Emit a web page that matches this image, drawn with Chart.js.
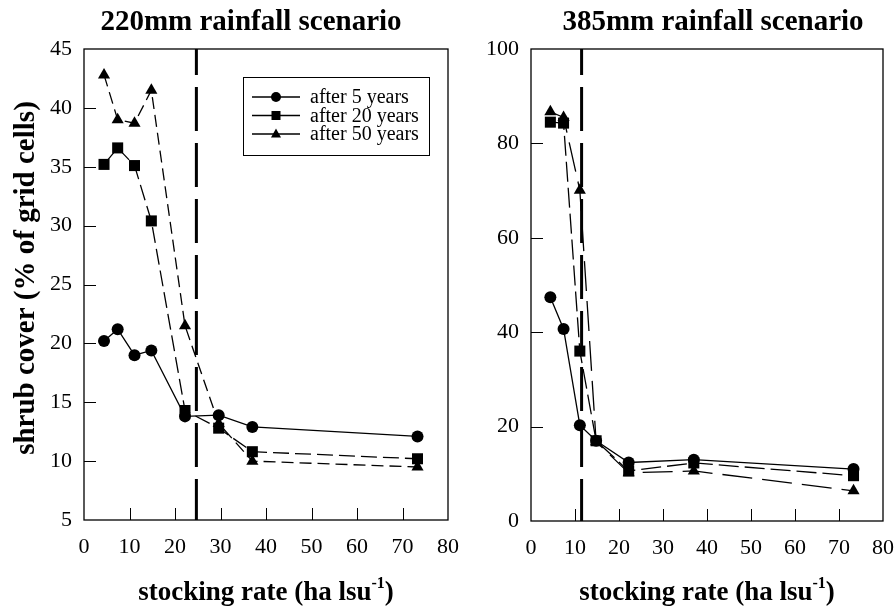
<!DOCTYPE html>
<html>
<head>
<meta charset="utf-8">
<script src="https://cdn.jsdelivr.net/npm/chart.js@4.4.0/dist/chart.umd.min.js"></script>
<style>
  html, body { margin: 0; padding: 0; background: #fff; overflow: hidden; }
  #wrap { position: relative; width: 896px; height: 610px; overflow: hidden; }
  #dry { position: absolute; left: 0; top: 0; width: 480px; height: 610px; }
  #wet { position: absolute; left: 470px; top: 0; width: 440px; height: 610px; }
</style>
</head>
<body>
<div id="wrap">
  <canvas id="dry" width="480" height="610"></canvas>
  <canvas id="wet" width="440" height="610"></canvas>
</div>
<script>
// stocking rates (ha per lsu)
const dryRates = [4.4, 7.4, 11.1, 14.8, 22.2, 29.6, 37, 73.3];
const wetRates = [4.4, 7.4, 11.1, 14.8, 22.2, 37, 73.3];

// 220mm scenario, shrub cover %
const dry5 = [20.2, 21.2, 19.0, 19.4, 13.8, 13.9, 12.9, 12.1];
const dry20 = [35.2, 36.6, 35.1, 30.4, 14.3, 12.8, 10.8, 10.2];
const dry50 = [42.8, 39.0, 38.7, 41.5, 21.5, 13.2, 10.0, 9.5];

// 385mm scenario, shrub cover %
const wet5 = [47.4, 40.7, 20.3, 17.0, 12.4, 13.0, 11.0];
const wet20 = [84.5, 84.3, 36.0, 17.0, 10.6, 12.3, 9.6];
const wet50 = [86.7, 85.5, 70.1, 16.8, 10.2, 10.6, 6.4];

const seriesLabels = ['after 5 years', 'after 20 years', 'after 50 years'];
const dryThreshold = 24.7;
const wetThreshold = 11.5;

const xTicks = [0, 10, 20, 30, 40, 50, 60, 70, 80];
const dryYTicks = [5, 10, 15, 20, 25, 30, 35, 40, 45];
const wetYTicks = [0, 20, 40, 60, 80, 100];

const SERIF = "'Liberation Serif', 'DejaVu Serif', serif";
Chart.defaults.font.family = SERIF;
Chart.defaults.color = '#000';

function points(xs, ys) {
    return xs.map((x, i) => ({ x: x, y: ys[i] }));
}

function series(label, xs, ys, style, radius, dash) {
    return {
        label: label,
        data: points(xs, ys),
        showLine: true,
        borderColor: '#000',
        backgroundColor: '#000',
        borderWidth: 1.3,
        borderDash: dash,
        pointStyle: style,
        pointRadius: radius,
        pointHoverRadius: radius,
        pointBorderWidth: 0,
        tension: 0
    };
}

function drawMarker(ctx, style, x, y, r) {
    ctx.beginPath();
    if (style === 'circle') {
        ctx.arc(x, y, r, 0, Math.PI * 2);
    } else if (style === 'rect') {
        ctx.rect(x - r, y - r, 2 * r, 2 * r);
    } else {
        ctx.moveTo(x, y - r * 1.1);
        ctx.lineTo(x + r, y + r * 0.7);
        ctx.lineTo(x - r, y + r * 0.7);
        ctx.closePath();
    }
    ctx.fill();
}

// frame, inward ticks, titles, threshold line and legend
const figurePlugin = {
    id: 'figure',
    beforeDatasetsDraw(chart, args, opts) {
        const ctx = chart.ctx;
        const a = chart.chartArea;
        const x = chart.scales.x.getPixelForValue(opts.threshold);
        ctx.save();
        ctx.strokeStyle = '#000';
        ctx.lineWidth = 3;
        ctx.setLineDash([44, 12]);
        ctx.lineDashOffset = 18;
        ctx.beginPath();
        ctx.moveTo(x, a.top);
        ctx.lineTo(x, a.bottom);
        ctx.stroke();
        ctx.restore();
    },
    afterDraw(chart, args, opts) {
        const ctx = chart.ctx;
        const a = chart.chartArea;
        const xs = chart.scales.x;
        const ys = chart.scales.y;
        ctx.save();
        ctx.strokeStyle = '#000';
        ctx.lineWidth = 1.3;
        ctx.strokeRect(a.left, a.top, a.right - a.left, a.bottom - a.top);

        ctx.beginPath();
        xs.ticks.forEach(t => {
            if (t.value <= xs.min || t.value >= xs.max) return;
            const px = Math.round(xs.getPixelForValue(t.value)) + 0.5;
            ctx.moveTo(px, a.bottom);
            ctx.lineTo(px, a.bottom - 12);
        });
        ys.ticks.forEach(t => {
            if (t.value <= ys.min || t.value >= ys.max) return;
            const py = Math.round(ys.getPixelForValue(t.value)) + 0.5;
            ctx.moveTo(a.left, py);
            ctx.lineTo(a.left + 12, py);
        });
        ctx.lineWidth = 1;
        ctx.stroke();

        ctx.fillStyle = '#000';
        ctx.textAlign = 'center';
        ctx.textBaseline = 'alphabetic';
        ctx.font = 'bold 29px ' + SERIF;
        ctx.fillText(opts.title, opts.titleX, 30);

        // x axis title with superscript
        const main = 'stocking rate (ha lsu';
        const sup = '-1';
        const tail = ')';
        ctx.font = 'bold 27px ' + SERIF;
        const w1 = ctx.measureText(main).width;
        const w3 = ctx.measureText(tail).width;
        ctx.font = 'bold 16px ' + SERIF;
        const w2 = ctx.measureText(sup).width;
        let sx = opts.xTitleX - (w1 + w2 + w3) / 2;
        const base = 600;
        ctx.textAlign = 'left';
        ctx.font = 'bold 27px ' + SERIF;
        ctx.fillText(main, sx, base);
        ctx.font = 'bold 16px ' + SERIF;
        ctx.fillText(sup, sx + w1, base - 12);
        ctx.font = 'bold 27px ' + SERIF;
        ctx.fillText(tail, sx + w1 + w2, base);

        if (opts.yTitle) {
            ctx.save();
            ctx.translate(34, 278);
            ctx.rotate(-Math.PI / 2);
            ctx.textAlign = 'center';
            ctx.font = 'bold 29px ' + SERIF;
            ctx.fillText(opts.yTitle, 0, 0);
            ctx.restore();
        }

        if (opts.legend) {
            const lg = opts.legend;
            ctx.lineWidth = 1;
            ctx.strokeRect(lg.x + 0.5, lg.y + 0.5, lg.w, lg.h);
            ctx.font = '20px ' + SERIF;
            chart.data.datasets.forEach((ds, i) => {
                const cy = lg.y + 20 + i * 18.5;
                ctx.beginPath();
                ctx.lineWidth = 1.5;
                ctx.moveTo(lg.x + 9, cy);
                ctx.lineTo(lg.x + 57, cy);
                ctx.stroke();
                drawMarker(ctx, ds.pointStyle, lg.x + 33, cy, ds.pointStyle === 'rect' ? 4.5 : 5);
                ctx.fillText(ds.label, lg.x + 67, cy + 6);
            });
        }
        ctx.restore();
    }
};

function makeChart(id, datasets, cfg) {
    return new Chart(document.getElementById(id), {
        type: 'scatter',
        data: { datasets: datasets },
        plugins: [figurePlugin],
        options: {
            responsive: false,
            animation: false,
            events: [],
            layout: { padding: { left: 0, right: cfg.padRight, top: 49, bottom: 0 } },
            plugins: {
                legend: { display: false },
                tooltip: { enabled: false },
                figure: cfg.figure
            },
            scales: {
                x: {
                    type: 'linear',
                    min: 0,
                    max: 80,
                    afterBuildTicks: s => { s.ticks = xTicks.map(v => ({ value: v })); },
                    grid: { display: false, drawTicks: false },
                    border: { display: false },
                    ticks: { padding: 14, font: { size: 22 }, color: '#000' },
                    afterFit: s => { s.height = cfg.xHeight; }
                },
                y: {
                    type: 'linear',
                    min: cfg.yTicks[0],
                    max: cfg.yTicks[cfg.yTicks.length - 1],
                    afterBuildTicks: s => { s.ticks = cfg.yTicks.map(v => ({ value: v })); },
                    grid: { display: false, drawTicks: false },
                    border: { display: false },
                    ticks: { padding: 12, font: { size: 22 }, color: '#000' },
                    afterFit: s => { s.width = cfg.yWidth; }
                }
            }
        }
    });
}

makeChart('dry', [
    series(seriesLabels[0], dryRates, dry5, 'circle', 6, []),
    series(seriesLabels[1], dryRates, dry20, 'rect', 7.8, [16, 6]),
    series(seriesLabels[2], dryRates, dry50, 'triangle', 7, [12, 6])
], {
    padRight: 32, xHeight: 90, yWidth: 84, yTicks: dryYTicks,
    figure: {
        title: '220mm rainfall scenario', titleX: 251, xTitleX: 266,
        yTitle: 'shrub cover (% of grid cells)', threshold: dryThreshold,
        legend: { x: 243, y: 77, w: 186, h: 78 }
    }
});

makeChart('wet', [
    series(seriesLabels[0], wetRates, wet5, 'circle', 6, []),
    series(seriesLabels[1], wetRates, wet20, 'rect', 7.8, [20, 6]),
    series(seriesLabels[2], wetRates, wet50, 'triangle', 7, [30, 10])
], {
    padRight: 27, xHeight: 89, yWidth: 61, yTicks: wetYTicks,
    figure: {
        title: '385mm rainfall scenario', titleX: 243, xTitleX: 237,
        yTitle: null, threshold: wetThreshold, legend: null
    }
});
</script>
</body>
</html>
